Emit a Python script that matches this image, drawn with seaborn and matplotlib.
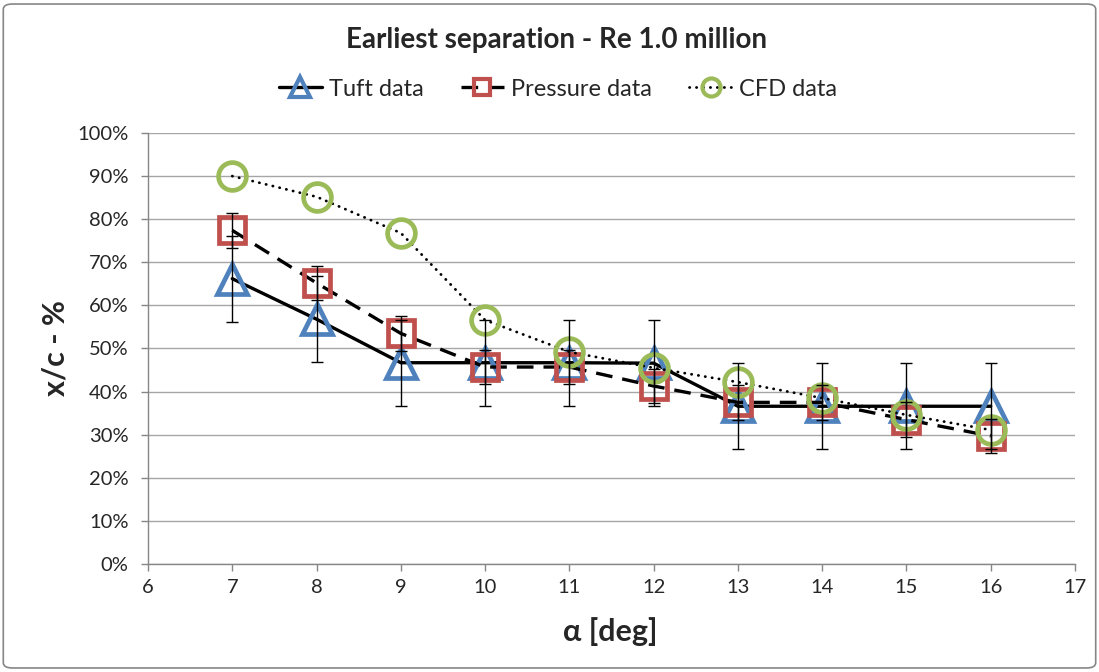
import numpy as np
import pandas as pd
import matplotlib
matplotlib.use('Agg')
import matplotlib.pyplot as plt
import seaborn as sns
from matplotlib.ticker import PercentFormatter, MultipleLocator
from matplotlib.patches import FancyBboxPatch
from matplotlib.lines import Line2D

# data (x/c as fraction)
alpha = [7, 8, 9, 10, 11, 12, 13, 14, 15, 16]
tuft = [0.662, 0.568, 0.467, 0.467, 0.467, 0.466, 0.366, 0.366, 0.366, 0.366]
tuft_err = 0.10
pressure = [0.774, 0.652, 0.535, 0.457, 0.457, 0.413, 0.375, 0.375, 0.335, 0.297]
pressure_err = 0.04
cfd = [0.900, 0.852, 0.768, 0.566, 0.492, 0.455, 0.422, 0.385, 0.346, 0.311]

blue = '#4F81BD'
red = '#C0504D'
green = '#9BBB59'

sns.set_style('white')
plt.rcParams['font.family'] = ['Lato', 'DejaVu Sans']

fig = plt.figure(figsize=(10.99, 6.72), dpi=100)
ax = fig.add_axes([148 / 1099, 1 - 564 / 672, (1075 - 148) / 1099, (564 - 133) / 672])

df = pd.DataFrame({'alpha': alpha, 'Tuft data': tuft, 'Pressure data': pressure, 'CFD data': cfd})

ax.yaxis.grid(True, color='#A6A6A6', lw=1)
ax.set_axisbelow(True)

tuft_style = dict(color='black', lw=2.4, linestyle='-', marker='^', mfc='none', mec=blue, mew=3.4)
pres_style = dict(color='black', lw=2.4, linestyle=(0, (5, 3)), marker='s', mfc='none', mec=red, mew=3.4)
cfd_style = dict(color='black', lw=2.0, linestyle=(0, (0.1, 2.4)), dash_capstyle='round',
                 marker='o', mfc='none', mec=green, mew=3.4)

sns.lineplot(data=df, x='alpha', y='Tuft data', ax=ax, markersize=22, zorder=3, **tuft_style)
sns.lineplot(data=df, x='alpha', y='Pressure data', ax=ax, markersize=19, zorder=4, **pres_style)
sns.lineplot(data=df, x='alpha', y='CFD data', ax=ax, markersize=20, zorder=5, **cfd_style)

ax.errorbar(alpha, tuft, yerr=tuft_err, fmt='none', ecolor='black', elinewidth=1, capsize=4, capthick=1, zorder=6)
ax.errorbar(alpha, pressure, yerr=pressure_err, fmt='none', ecolor='black', elinewidth=1, capsize=4, capthick=1, zorder=6)

ax.set_xlim(6, 17)
ax.set_ylim(0, 1)
ax.xaxis.set_major_locator(MultipleLocator(1))
ax.yaxis.set_major_locator(MultipleLocator(0.1))
ax.yaxis.set_major_formatter(PercentFormatter(1.0, decimals=0))
ax.tick_params(axis='both', labelsize=14.5, colors='#262626', length=5, width=1, direction='out',
               left=True, bottom=True)
ax.tick_params(axis='y', pad=9)
ax.tick_params(axis='x', pad=6)
ax.tick_params(axis='both', color='#868686')
for s in ['top', 'right']:
    ax.spines[s].set_visible(False)
for s in ['left', 'bottom']:
    ax.spines[s].set_color('#868686')
    ax.spines[s].set_linewidth(1)

ax.set_xlabel('α [deg]', fontsize=22, fontweight='bold')
ax.set_ylabel('x/c - %', fontsize=22, fontweight='bold')
ax.xaxis.set_label_coords((610 - 148) / 927, (564 - 617) / 431)
ax.yaxis.set_label_coords((69 - 148) / 927, 0.5)

fig.text(557 / 1099, 1 - 40 / 672, 'Earliest separation - Re 1.0 million', ha='center', va='center',
         fontsize=20, fontweight='bold')

handles = [Line2D([], [], markersize=14, **tuft_style),
           Line2D([], [], markersize=12, **pres_style),
           Line2D([], [], markersize=13, **cfd_style)]
for h in handles:
    h.set_markeredgewidth(3)
ax.legend(handles, ['Tuft data', 'Pressure data', 'CFD data'], loc='center',
          bbox_to_anchor=(558 / 1099, 1 - 89 / 672), bbox_transform=fig.transFigure, ncol=3,
          frameon=False, fontsize=17, handlelength=1.8, columnspacing=1.6, handletextpad=0.3)

fig.patches.append(FancyBboxPatch((0.003, 0.006), 0.994, 0.988, boxstyle='round,pad=0,rounding_size=0.008',
                                  transform=fig.transFigure, fill=False, ec='#868686', lw=1.2))

fig.savefig('out.png', dpi=100)
